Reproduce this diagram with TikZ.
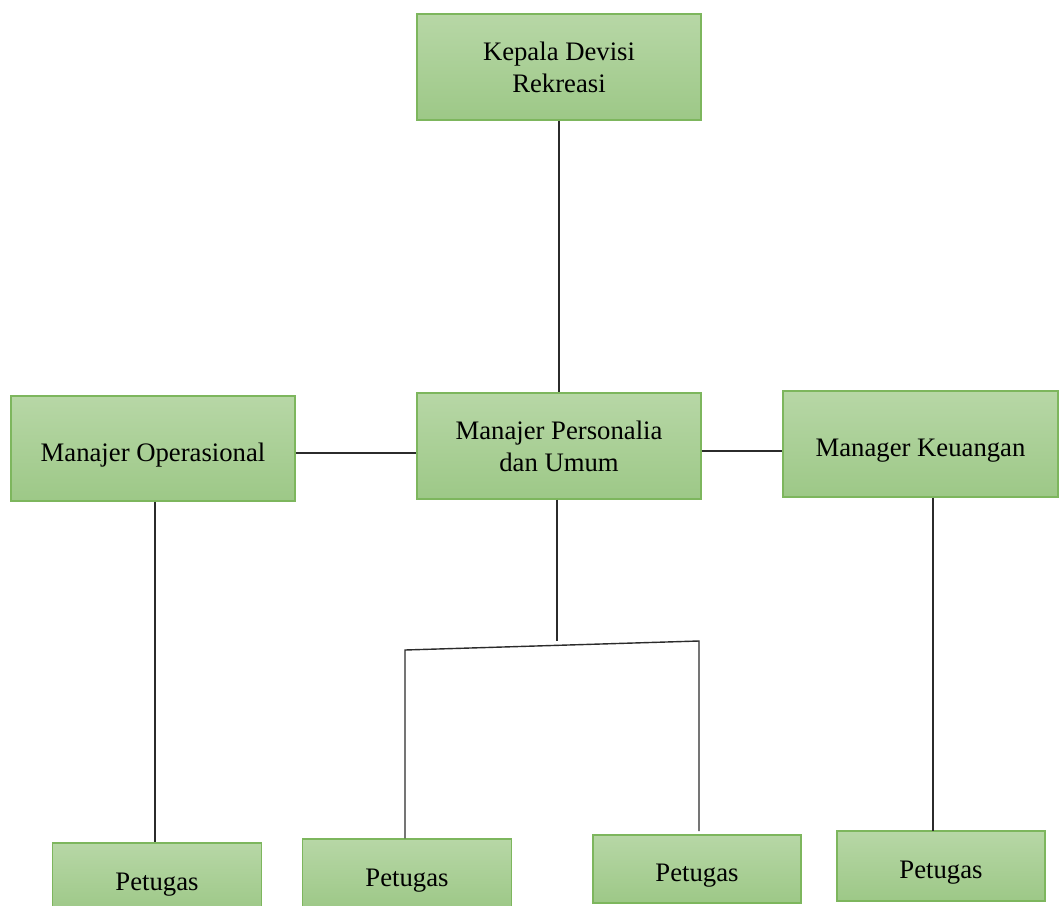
\documentclass[tikz,border=0pt]{standalone}
\usepackage{fontspec}
\setmainfont{Liberation Serif}
\begin{document}
\begin{tikzpicture}[x=1bp,y=-1bp,
  orgbox/.style={rectangle, draw=boxedge, line width=1.3bp,
    top color=boxtop, bottom color=boxbottom, inner sep=0pt,
    align=center, text depth=0pt, font=\fontsize{26.8}{32}\selectfont},
  oneline/.style={text height=25bp},
  link/.style={draw=linkcol, line width=1.4bp}]
\definecolor{boxtop}{HTML}{B7D7A6}
\definecolor{boxbottom}{HTML}{9DC887}
\definecolor{boxedge}{HTML}{7DB65D}
\definecolor{linkcol}{HTML}{2B2B2B}
\useasboundingbox (0,0) rectangle (1059,906);
\clip (0,0) rectangle (1059,906);

% management level
\node[orgbox, minimum width=284bp, minimum height=106bp] (kep) at (559,67) {Kepala Devisi\\Rekreasi};
\node[orgbox, oneline, minimum width=284bp, minimum height=105bp] (ops) at (153,448.5) {Manajer Operasional};
\node[orgbox, minimum width=284bp, minimum height=106bp] (per) at (559,446) {Manajer Personalia\\dan Umum};
\node[orgbox, oneline, minimum width=275bp, minimum height=106bp] (keu) at (920.5,444) {Manager Keuangan};

% staff level
\node[orgbox, oneline, minimum width=209bp, minimum height=70bp] (p1) at (157,878) {Petugas};
\node[orgbox, oneline, minimum width=209bp, minimum height=70bp] (p2) at (407,874) {Petugas};
\node[orgbox, oneline, minimum width=208bp, minimum height=68bp] (p3) at (697,869) {Petugas};
\node[orgbox, oneline, minimum width=208bp, minimum height=70bp] (p4) at (941,866) {Petugas};

% helper points for the connectors
\coordinate (xo) at (155,0);
\coordinate (xk) at (933,0);
\coordinate (ya) at (0,453);
\coordinate (yb) at (0,451);
\coordinate (jm) at (557,641);
\coordinate (jl) at (405,650);
\coordinate (jr) at (699,641);
\coordinate (jr2) at (699,831);

% connectors
\draw[link] (kep.south) -- (per.north);
\draw[link] (ops.east |- ya) -- (per.west |- ya);
\draw[link] (per.east |- yb) -- (keu.west |- yb);
\draw[link] (ops.south -| xo) -- (p1.north -| xo);
\draw[link] (per.south -| jm) -- (jm);
\draw[link] (p2.north -| jl) -- (jl) -- (jr) -- (jr2);
\draw[link] (keu.south -| xk) -- (xk |- jr2);
\end{tikzpicture}
\end{document}
